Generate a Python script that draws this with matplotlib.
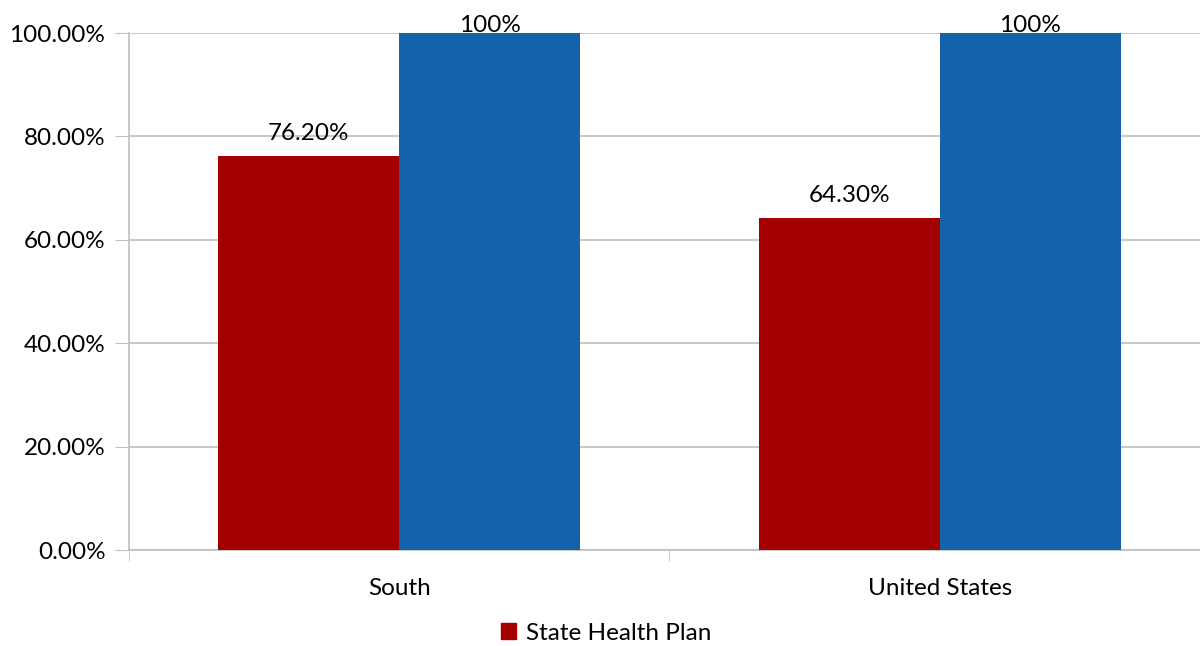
import numpy as np
import matplotlib.pyplot as plt
from matplotlib.patches import Patch

plt.rcParams['font.family'] = ['Lato', 'DejaVu Sans']

regions = ["South", "United States"]
state_plan = [76.2, 64.3]
reference = [100, 100]
state_labels = ["76.20%", "64.30%"]
ref_labels = ["100%", "100%"]

red = '#A50000'
blue = '#1462AA'
grey = '#BFBFBF'
fs = 17.5

fig = plt.figure(figsize=(12, 6.46), dpi=100)
ax = fig.add_axes([0.1075, 0.1486, 0.9008, 0.8003])

x = np.arange(len(regions))
w = 0.335
bars1 = ax.bar(x - w/2, state_plan, w, color=red, zorder=3)
bars2 = ax.bar(x + w/2, reference, w, color=blue, zorder=3)

for b, lab in zip(bars1, state_labels):
    ax.text(b.get_x() + b.get_width()/2, b.get_height() + 2.3, lab,
            ha='center', va='bottom', fontsize=fs, color='black')
for b, lab in zip(bars2, ref_labels):
    ax.text(b.get_x() + b.get_width()/2, b.get_height() - 0.6, lab,
            ha='center', va='bottom', fontsize=fs, color='black', zorder=4)

ax.set_xlim(-0.5, 1.5)
ax.set_ylim(0, 100)
ax.set_yticks(np.arange(0, 101, 20))
ax.set_yticklabels([f"{v:.2f}%" for v in np.arange(0, 101, 20)], fontsize=fs)
ax.set_xticks(x)
ax.set_xticklabels(regions, fontsize=fs)
ax.set_xticks([-0.5, 0.5, 1.5], minor=True)
ax.tick_params(axis='x', which='major', length=0, pad=20)
ax.tick_params(axis='x', which='minor', length=8, color=grey)
ax.tick_params(axis='y', length=10, color=grey, pad=7)
ax.grid(axis='y', color=grey, linewidth=1.2, zorder=0)
for s in ['top', 'right']:
    ax.spines[s].set_visible(False)
ax.spines['left'].set_color(grey)
ax.spines['bottom'].set_color(grey)
ax.spines['left'].set_linewidth(1.2)
ax.spines['bottom'].set_linewidth(1.2)

fig.legend(handles=[Patch(color=red, label="State Health Plan")],
           loc='center', bbox_to_anchor=(0.505, 0.02), frameon=False,
           fontsize=fs, handlelength=0.65, handleheight=0.65, handletextpad=0.4)

fig.savefig("out.png", dpi=100)
